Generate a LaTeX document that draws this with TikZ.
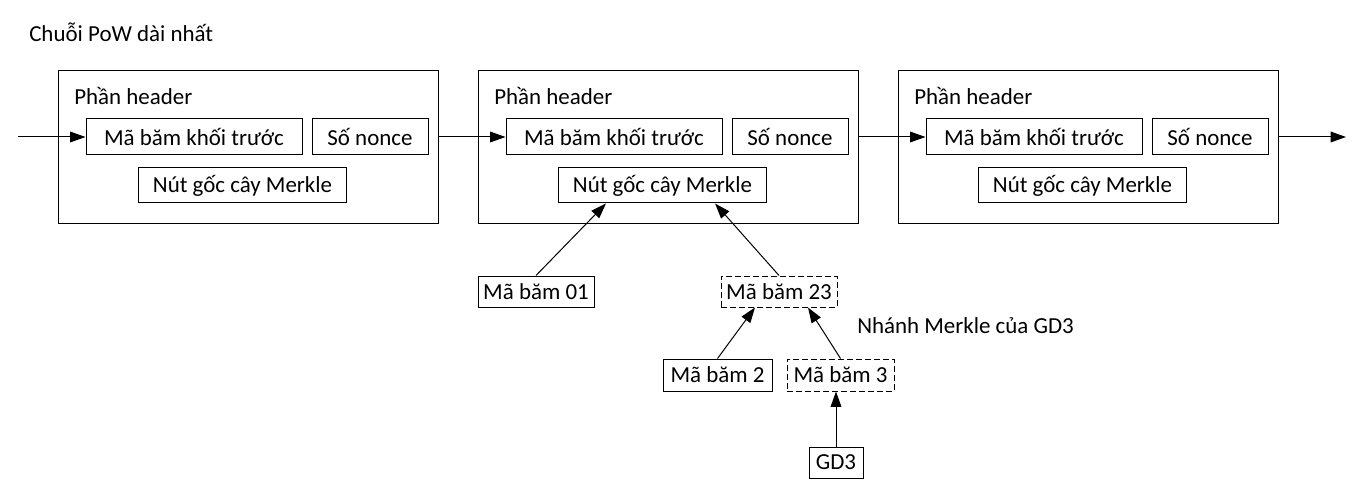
\documentclass[tikz,border=0pt]{standalone}
\usepackage{fontspec}
\setmainfont{Carlito}
\usetikzlibrary{arrows.meta,calc}
\begin{document}
\begin{tikzpicture}[x=0.75pt,y=-0.75pt,
  every node/.style={font=\fontsize{17.2}{20}\selectfont},
  box/.style={draw,line width=0.75pt,inner sep=0pt,minimum height=27pt},
  block/.style={draw,line width=0.75pt,inner sep=0pt,minimum width=285pt,minimum height=114pt},
  dbox/.style={box,dash pattern=on 4.5pt off 2.25pt},
  lbl/.style={anchor=west,inner sep=0pt},
  conn/.style={line width=0.75pt,-{Triangle[length=11.5pt,width=8pt]}}]
\useasboundingbox (0,0) rectangle (1367,499);
\node[lbl] (title) at (29,32) {Chuỗi PoW dài nhất};
\foreach \i/\dx in {1/0,2/420,3/840}{
  \node[block] (b\i) at (248+\dx,147) {};
  \node[lbl] (p\i) at (74+\dx,96) {Phần header};
  \node[box,minimum width=162pt] (m\i) at (194+\dx,137) {Mã băm khối trước};
  \node[box,minimum width=87pt] (s\i) at (370+\dx,137) {Số nonce};
  \node[box,minimum width=156pt,minimum height=26.25pt] (r\i) at (242.5+\dx,185.5) {Nút gốc cây Merkle};
}
\coordinate (in) at (18,137);
\coordinate (out) at (1346,137);
\draw[conn] (in) -- (m1.west);
\draw[conn] (b1.east |- m2.west) -- (m2.west);
\draw[conn] (b2.east |- m3.west) -- (m3.west);
\draw[conn] (b3.east |- out) -- (out);
\node[box,minimum width=87pt,minimum height=23.25pt] (h01) at (536,291.5) {Mã băm 01};
\node[dbox,minimum width=87pt,minimum height=23.25pt] (h23) at (779,291.5) {Mã băm 23};
\node[box,minimum width=81.75pt,minimum height=24pt] (h2) at (717.5,375) {Mã băm 2};
\node[dbox,minimum width=80.25pt,minimum height=24pt] (h3) at (840.5,375) {Mã băm 3};
\node[box,minimum width=40.5pt,minimum height=23.25pt] (gd3) at (836,462.5) {GD3};
\node[lbl] (br) at (857,326) {Nhánh Merkle của GD3};
\draw[conn] (h01.north) -- ([xshift=-42.4pt]r2.south);
\draw[conn] (h23.north) -- ([xshift=39.4pt]r2.south);
\draw[conn] (h2.north) -- ([xshift=-18pt]h23.south);
\draw[conn] (h3.north) -- ([xshift=21.75pt]h23.south);
\draw[conn] (gd3.north) -- (gd3.north |- h3.south);
\end{tikzpicture}
\end{document}
